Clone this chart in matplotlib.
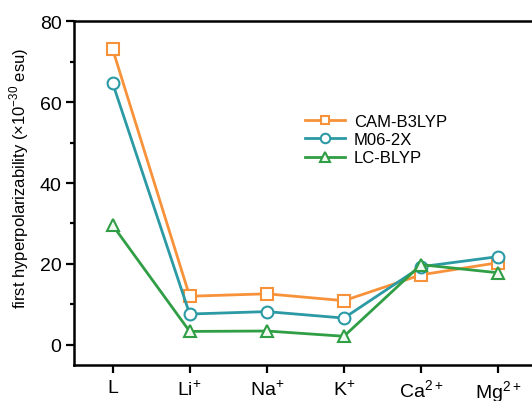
import numpy as np
import matplotlib.pyplot as plt
from matplotlib.ticker import MultipleLocator

plt.rcParams['font.family'] = ['Liberation Sans', 'DejaVu Sans']
plt.rcParams['mathtext.fontset'] = 'custom'
plt.rcParams['mathtext.rm'] = 'Liberation Sans'

labels = ['L', 'Li$^{+}$', 'Na$^{+}$', 'K$^{+}$', 'Ca$^{2+}$', 'Mg$^{2+}$']
cam_b3lyp = [73.2, 12.0, 12.6, 10.9, 17.3, 20.3]
m06_2x = [64.8, 7.6, 8.2, 6.6, 19.3, 21.8]
lc_blyp = [29.6, 3.3, 3.4, 2.1, 19.8, 17.8]

x = np.arange(len(labels))

fig = plt.figure(figsize=(5.32, 4.02), dpi=100)
ax = fig.add_axes([0.139, 0.0896, 0.87, 0.855])

ax.plot(x, cam_b3lyp, color='#F7923A', lw=2, marker='s', ms=8,
        mfc='white', mew=1.5, label='CAM-B3LYP')
ax.plot(x, m06_2x, color='#2B9AA4', lw=2, marker='o', ms=8.5,
        mfc='white', mew=1.5, label='M06-2X')
ax.plot(x, lc_blyp, color='#2F9E45', lw=2, marker='^', ms=9,
        mfc='#f2faf2', mew=1.5, label='LC-BLYP')

ax.set_xlim(-0.5, 5.5)
ax.set_ylim(-5, 80)
ax.set_xticks(x)
ax.set_xticklabels(labels)
ax.yaxis.set_major_locator(MultipleLocator(20))
ax.yaxis.set_minor_locator(MultipleLocator(10))
ax.tick_params(axis='both', which='major', direction='out', length=6, width=1.6,
               labelsize=14, pad=3)
ax.tick_params(axis='x', pad=4)
ax.tick_params(axis='y', which='minor', direction='out', length=3, width=1.6)
for s in ax.spines.values():
    s.set_linewidth(1.8)

ax.set_ylabel('first hyperpolarizability (×10$^{-30}$ esu)', fontsize=12)
ax.yaxis.set_label_coords(-0.092, 0.545)

ax.legend(loc='upper left', bbox_to_anchor=(0.475, 0.765), frameon=False,
          fontsize=12, handlelength=2.4, labelspacing=0.2, handletextpad=0.5,
          markerscale=0.8, borderpad=0.2)

fig.savefig('out.png', dpi=100)
